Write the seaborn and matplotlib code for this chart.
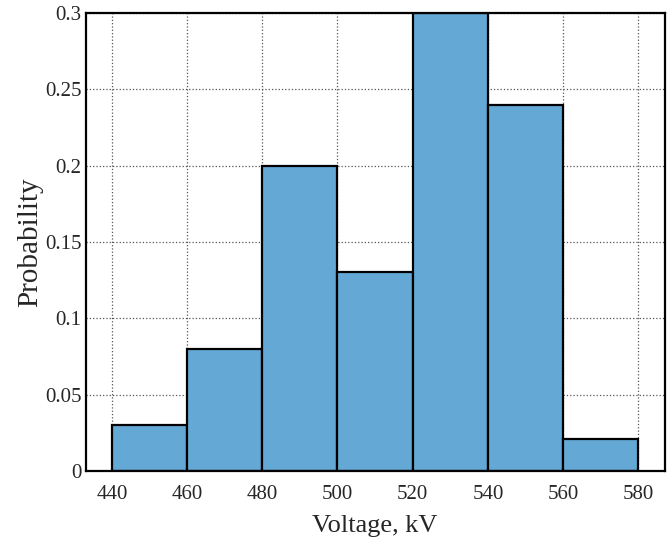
import numpy as np
import pandas as pd
import matplotlib
matplotlib.use("Agg")
import matplotlib.pyplot as plt
import seaborn as sns

# --- Histogram data (bin edges in kV, probability per bin) ---
bin_edges = [440, 460, 480, 500, 520, 540, 560, 580]
bin_centers = [450, 470, 490, 510, 530, 550, 570]
probabilities = [0.03, 0.08, 0.20, 0.13, 0.30, 0.24, 0.021]

df = pd.DataFrame({"Voltage": bin_centers, "Probability": probabilities})

sns.set_style("white")
plt.rcParams["font.family"] = ["Liberation Serif", "DejaVu Serif"]

fig, ax = plt.subplots(figsize=(6.68, 5.37), dpi=100)

sns.histplot(data=df, x="Voltage", weights="Probability", bins=bin_edges,
             color="#64a9d6", alpha=1.0, edgecolor="black", linewidth=1.6, ax=ax)

ax.set_xlim(433, 587)
ax.set_ylim(0, 0.3)
ax.set_xticks([440, 460, 480, 500, 520, 540, 560, 580])
ax.set_yticks([0, 0.05, 0.1, 0.15, 0.2, 0.25, 0.3])
ax.set_yticklabels(["0", "0.05", "0.1", "0.15", "0.2", "0.25", "0.3"])
ax.tick_params(axis="x", labelsize=15, length=0, pad=10)
ax.tick_params(axis="y", labelsize=15, length=0, pad=3)
ax.grid(True, linestyle=":", color="#555555", linewidth=0.9)
ax.set_axisbelow(True)
for spine in ax.spines.values():
    spine.set_linewidth(1.6)
    spine.set_color("black")

ax.set_xlabel("Voltage, kV", fontsize=19, labelpad=8)
ax.set_ylabel("Probability", fontsize=21, labelpad=1)

plt.subplots_adjust(left=0.128, right=0.995, top=0.976, bottom=0.123)
plt.savefig("out.png", dpi=100)
plt.close()
